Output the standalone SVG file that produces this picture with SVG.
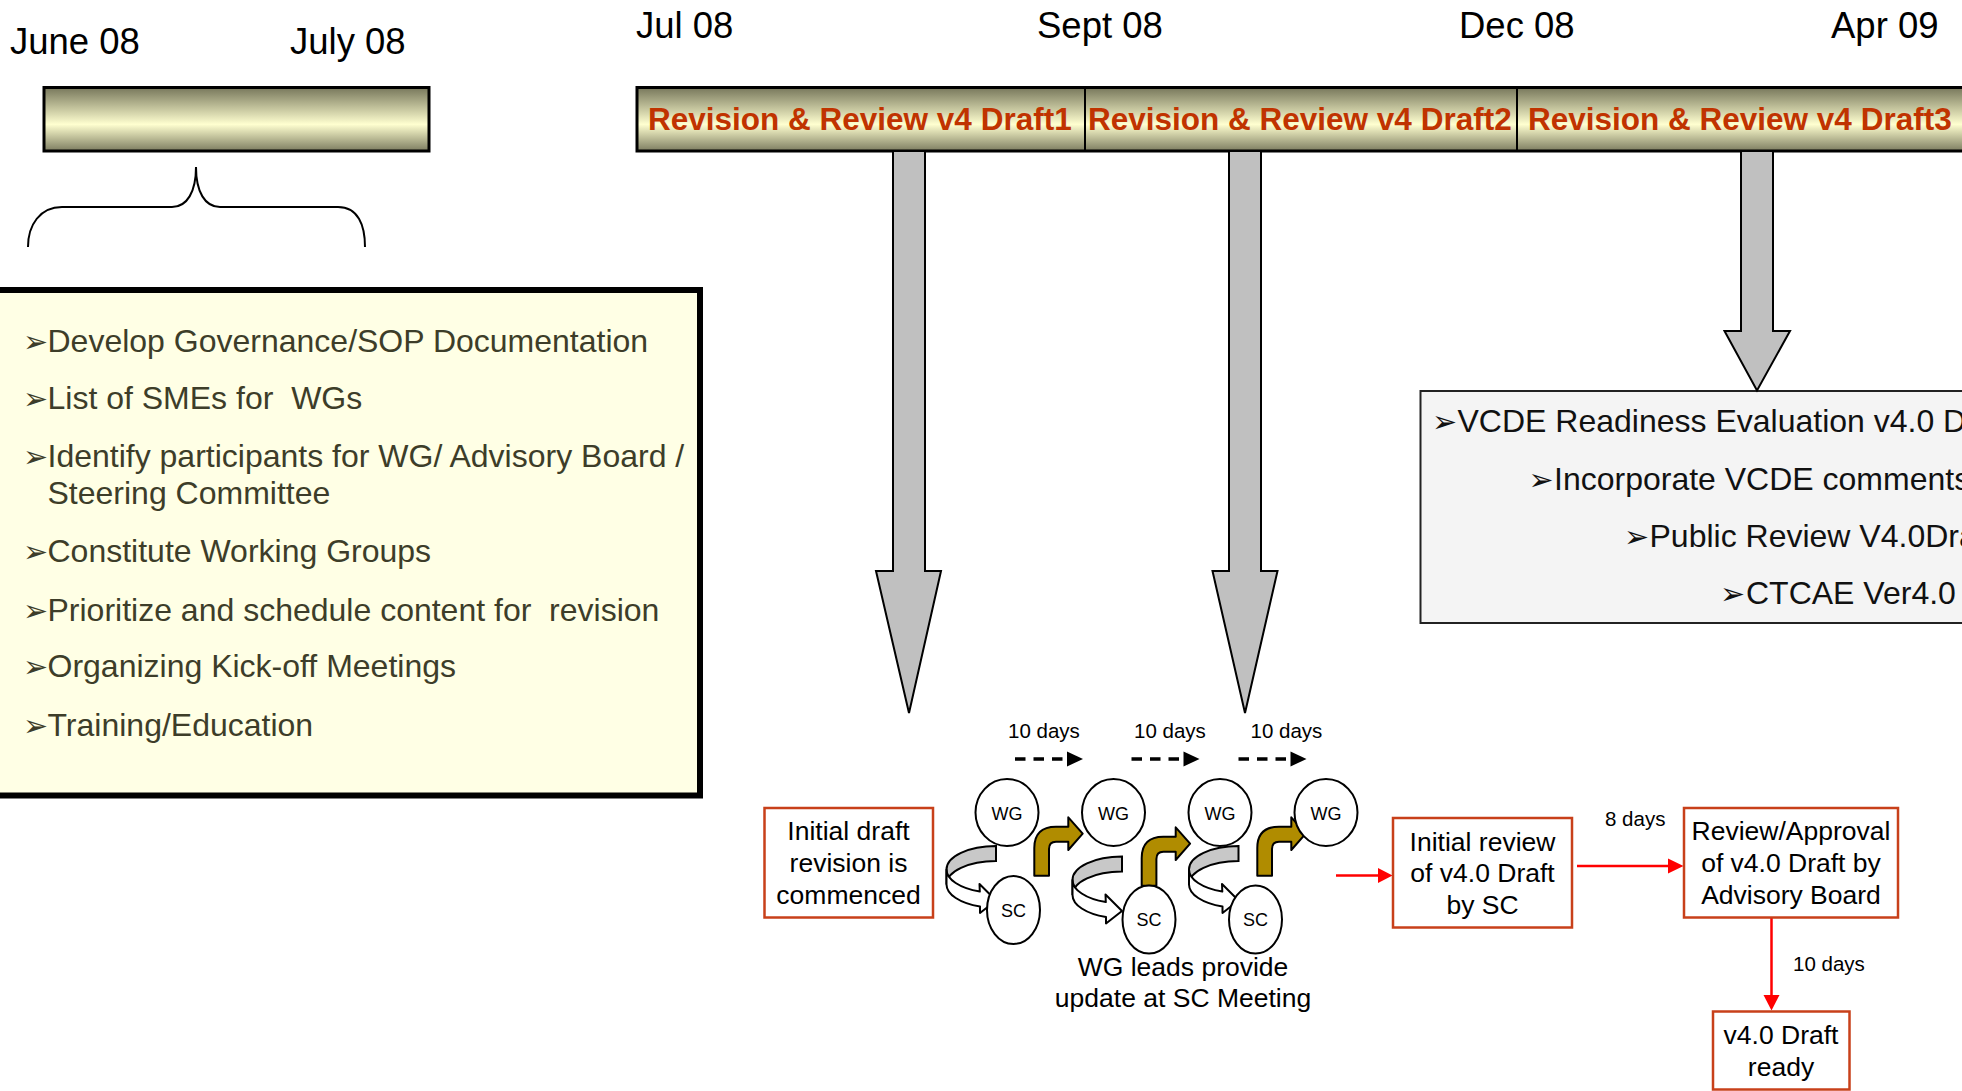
<svg xmlns="http://www.w3.org/2000/svg" width="1962" height="1091" viewBox="0 0 1962 1091">
<defs>
<linearGradient id="barGrad" x1="0" y1="0" x2="0" y2="1">
<stop offset="0" stop-color="#77775b"/>
<stop offset="0.58" stop-color="#ffffd0"/>
<stop offset="1" stop-color="#7d7d61"/>
</linearGradient>
<style>
text{font-family:"Liberation Sans",Arial,sans-serif;}
.date{font-size:36.5px;fill:#000;}
.bar{fill:url(#barGrad);stroke:#000;stroke-width:3;}
.bartxt{font-size:31.5px;font-weight:bold;fill:#c03300;}
.lst{font-size:32px;fill:#3d3d29;white-space:pre;}
.vc{font-size:32px;fill:#111;}
.bul{font-family:"DejaVu Sans",sans-serif;font-size:30px;}
.bigarrow{fill:#c0c0c0;stroke:#000;stroke-width:2;stroke-linejoin:miter;}
.box{fill:#fff;stroke:#c8401a;stroke-width:2.5;}
.btxt{font-size:26.5px;fill:#000;text-anchor:middle;}
.ell{fill:#fff;stroke:#000;stroke-width:2;}
.etxt{font-size:18px;fill:#000;text-anchor:middle;}
.days{font-size:20.5px;fill:#000;}
.dash{stroke:#000;stroke-width:3.5;stroke-dasharray:10.5 8;fill:none;}
.red{stroke:#ff0000;stroke-width:2.5;fill:none;}
.redhead{fill:#ff0000;}
.gold{fill:#b08c00;stroke:#000;stroke-width:2;stroke-linejoin:round;}
.cgray{fill:#c8c8c8;stroke:#000;stroke-width:2;}
.cwhite{fill:#fff;stroke:#000;stroke-width:2;stroke-linejoin:round;}
</style>
</defs>
<rect x="0" y="0" width="1962" height="1091" fill="#fff"/>

<g id="dates">
<text class="date" x="10" y="54">June 08</text>
<text class="date" x="290" y="54">July 08</text>
<text class="date" x="636" y="38">Jul 08</text>
<text class="date" x="1037" y="38">Sept 08</text>
<text class="date" x="1459" y="38">Dec 08</text>
<text class="date" x="1831" y="38">Apr 09</text>
</g>

<g id="prep-bar">
<rect class="bar" x="44" y="87.5" width="385" height="63.5"/>
</g>

<g id="timeline-bar">
<rect class="bar" x="637" y="87.5" width="1340" height="63.5"/>
<line x1="1085" y1="87.5" x2="1085" y2="151" stroke="#000" stroke-width="2"/>
<line x1="1517" y1="87.5" x2="1517" y2="151" stroke="#000" stroke-width="2"/>
<text class="bartxt" x="648" y="130">Revision &amp; Review v4 Draft1</text>
<text class="bartxt" x="1088" y="130">Revision &amp; Review v4 Draft2</text>
<text class="bartxt" x="1528" y="130">Revision &amp; Review v4 Draft3</text>
</g>

<g id="brace">
<path d="M28,247 C28,225 40,207 62,207 L172,207 C187,207 196,192 196,167 C196,192 205,207 220,207 L338,207 C358,207 365,225 365,247" fill="none" stroke="#000" stroke-width="2"/>
</g>

<g id="prep-tasks">
<rect x="-10" y="290" width="710" height="505.5" fill="#ffffe5" stroke="#000" stroke-width="6"/>
<text class="lst" x="23" y="352"><tspan class="bul">➢</tspan><tspan x="47.5">Develop Governance/SOP Documentation</tspan></text>
<text class="lst" x="23" y="408.5" xml:space="preserve"><tspan class="bul">➢</tspan><tspan x="47.5">List of SMEs for  WGs</tspan></text>
<text class="lst" x="23" y="466.5"><tspan class="bul">➢</tspan><tspan x="47.5">Identify participants for WG/ Advisory Board /</tspan></text>
<text class="lst" x="47.5" y="504">Steering Committee</text>
<text class="lst" x="23" y="562"><tspan class="bul">➢</tspan><tspan x="47.5">Constitute Working Groups</tspan></text>
<text class="lst" x="23" y="620.5" xml:space="preserve"><tspan class="bul">➢</tspan><tspan x="47.5">Prioritize and schedule content for  revision</tspan></text>
<text class="lst" x="23" y="677"><tspan class="bul">➢</tspan><tspan x="47.5">Organizing Kick-off Meetings</tspan></text>
<text class="lst" x="23" y="735.5"><tspan class="bul">➢</tspan><tspan x="47.5">Training/Education</tspan></text>
</g>

<g id="vcde-box">
<rect x="1420.5" y="391" width="560" height="232" fill="#f4f4f4" stroke="#222" stroke-width="2"/>
<text class="vc" x="1432" y="432"><tspan class="bul">➢</tspan><tspan x="1457.5">VCDE Readiness Evaluation v4.0 D</tspan></text>
<text class="vc" x="1528.5" y="489.5"><tspan class="bul">➢</tspan><tspan x="1554">Incorporate VCDE comments</tspan></text>
<text class="vc" x="1624" y="547"><tspan class="bul">➢</tspan><tspan x="1649.5">Public Review V4.0Dra</tspan></text>
<text class="vc" x="1720" y="604"><tspan class="bul">➢</tspan><tspan x="1746">CTCAE Ver4.0</tspan></text>
</g>

<g id="connectors">
<polygon class="bigarrow" points="893,151 925,151 925,571 941,571 909,713 876,571 893,571"/>
<polygon class="bigarrow" points="1229,151 1261,151 1261,571 1277.5,571 1245,713 1212.5,571 1229,571"/>
<polygon class="bigarrow" points="1741,151 1773,151 1773,331 1790,331 1757,390.5 1724.5,331 1741,331"/>

<line class="dash" x1="1015" y1="759" x2="1067" y2="759"/>
<polygon points="1067,751.5 1083,759 1067,766.5" fill="#000"/>
<line class="dash" x1="1131.5" y1="759" x2="1183.5" y2="759"/>
<polygon points="1183.5,751.5 1199.5,759 1183.5,766.5" fill="#000"/>
<line class="dash" x1="1238.5" y1="759" x2="1290.5" y2="759"/>
<polygon points="1290.5,751.5 1306.5,759 1290.5,766.5" fill="#000"/>

<g id="curve1">
<path class="cgray" d="M996,846 A49.5,23.4 0 0 0 946.5,869.4 L946.5,884.4 A49.5,23.4 0 0 1 996,861 Z"/>
<path class="cwhite" d="M946.5,869.4 A49.5,23.4 0 0 0 979.8,891.5 L979.5,884 L996,900.5 L980,913 L980,906.5 A49.5,23.4 0 0 1 946.5,884.4 Z"/>
</g>
<use href="#curve1" transform="translate(126,10.5)"/>
<use href="#curve1" transform="translate(242.5,0)"/>

<g id="bent1">
<path class="gold" d="M1034.3,875.7 L1034.3,848 Q1034.3,826.7 1056,826.7 L1068.3,826.7 L1068.3,817.3 L1082.7,833.7 L1068.3,850 L1068.3,841.7 L1056,841.7 Q1049,841.7 1049,849 L1049,875.7 Z"/>
</g>
<use href="#bent1" transform="translate(107.4,10)"/>
<use href="#bent1" transform="translate(223,0)"/>

<line class="red" x1="1336" y1="875.5" x2="1379" y2="875.5"/>
<polygon class="redhead" points="1378,868 1392.5,875.5 1378,883"/>
<line class="red" x1="1577" y1="866" x2="1669" y2="866"/>
<polygon class="redhead" points="1668,858.5 1683.5,866 1668,873.5"/>
<line class="red" x1="1771.5" y1="917" x2="1771.5" y2="996"/>
<polygon class="redhead" points="1763.5,995 1771.5,1010.5 1779.5,995"/>
</g>

<g id="days-labels">
<text class="days" x="1008" y="738">10 days</text>
<text class="days" x="1134" y="738">10 days</text>
<text class="days" x="1250.5" y="738">10 days</text>
<text class="days" x="1605" y="825.5">8 days</text>
<text class="days" x="1793" y="971">10 days</text>
</g>

<g id="node-initial-draft">
<rect class="box" x="764.5" y="808" width="168.5" height="109.5"/>
<text class="btxt" x="848.5" y="840">Initial draft</text>
<text class="btxt" x="848.5" y="872">revision is</text>
<text class="btxt" x="848.5" y="903.5">commenced</text>
</g>

<g id="node-wg1"><ellipse class="ell" cx="1007" cy="812.5" rx="31.5" ry="33.5"/><text class="etxt" x="1007" y="819.5">WG</text></g>
<g id="node-sc1"><ellipse class="ell" cx="1013.5" cy="910" rx="26.5" ry="34"/><text class="etxt" x="1013.5" y="916.5">SC</text></g>
<g id="node-wg2"><ellipse class="ell" cx="1113.5" cy="812.5" rx="31.5" ry="33.5"/><text class="etxt" x="1113.5" y="819.5">WG</text></g>
<g id="node-sc2"><ellipse class="ell" cx="1149" cy="919.5" rx="26.5" ry="34"/><text class="etxt" x="1149" y="926">SC</text></g>
<g id="node-wg3"><ellipse class="ell" cx="1220" cy="812.5" rx="31.5" ry="33.5"/><text class="etxt" x="1220" y="819.5">WG</text></g>
<g id="node-sc3"><ellipse class="ell" cx="1255.5" cy="919.5" rx="26.5" ry="34"/><text class="etxt" x="1255.5" y="926">SC</text></g>
<g id="node-wg4"><ellipse class="ell" cx="1326" cy="812.5" rx="31.5" ry="33.5"/><text class="etxt" x="1326" y="819.5">WG</text></g>

<g id="wg-note">
<text class="btxt" x="1183" y="976">WG leads provide</text>
<text class="btxt" x="1183" y="1007">update at SC Meeting</text>
</g>

<g id="node-initial-review">
<rect class="box" x="1393" y="818" width="179" height="109.5"/>
<text class="btxt" x="1482.5" y="851">Initial review</text>
<text class="btxt" x="1482.5" y="882">of v4.0 Draft</text>
<text class="btxt" x="1482.5" y="914">by SC</text>
</g>

<g id="node-approval">
<rect class="box" x="1684" y="808" width="214" height="109.5"/>
<text class="btxt" x="1791" y="840">Review/Approval</text>
<text class="btxt" x="1791" y="872">of v4.0 Draft by</text>
<text class="btxt" x="1791" y="903.5">Advisory Board</text>
</g>

<g id="node-ready">
<rect class="box" x="1713" y="1011.5" width="136.5" height="78"/>
<text class="btxt" x="1781" y="1044">v4.0 Draft</text>
<text class="btxt" x="1781" y="1076">ready</text>
</g>
</svg>
